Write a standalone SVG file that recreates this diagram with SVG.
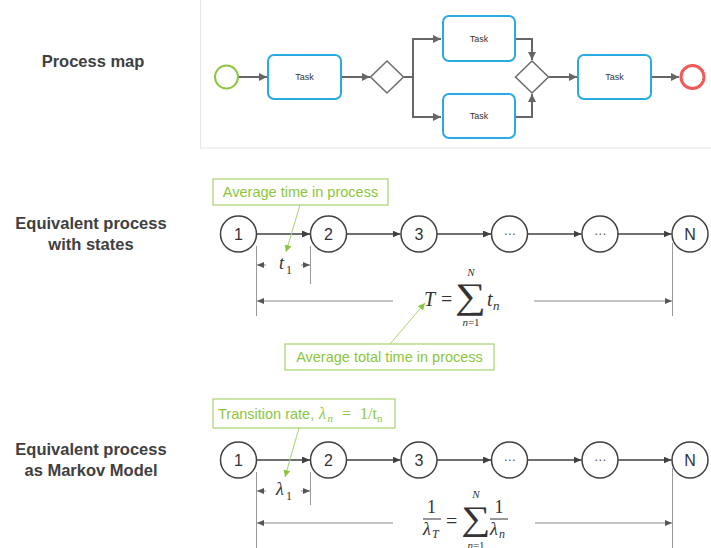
<svg xmlns="http://www.w3.org/2000/svg" width="711" height="548" viewBox="0 0 711 548">
  <defs>
    <style>
      .lbl{font-family:"Liberation Sans",Arial,sans-serif;font-weight:bold;font-size:16.5px;fill:#404040;text-anchor:middle}
      .task{fill:#fff;stroke:#29abe2;stroke-width:2}
      .tt{font-family:"Liberation Sans",Arial,sans-serif;font-size:9px;fill:#333;text-anchor:middle}
      .gw{fill:#fff;stroke:#707070;stroke-width:1.6}
      .flow{fill:none;stroke:#666;stroke-width:2}
      .st{fill:#fff;stroke:#404040;stroke-width:1.5}
      .sn{font-family:"Liberation Sans",Arial,sans-serif;font-size:16px;fill:#333;text-anchor:middle}
      .dots{font-family:"DejaVu Sans",sans-serif;font-size:12px;fill:#555;text-anchor:middle}
      .edge{fill:none;stroke:#404040;stroke-width:1.5}
      .ext{stroke:#999;stroke-width:1}
      .dim{stroke:#888;stroke-width:1}
      .cb{fill:#fff;stroke:#a9d46f;stroke-width:1.2}
      .ct{font-family:"Liberation Sans",Arial,sans-serif;font-size:14.5px;fill:#8cc63e}
      .cm{font-family:"Liberation Serif","DejaVu Serif",serif;font-style:italic;fill:#8cc63e}
      .cr{font-family:"Liberation Serif","DejaVu Serif",serif;fill:#8cc63e}
      .cp{stroke:#a9d46f;stroke-width:1}
      .m{font-family:"Liberation Serif","DejaVu Serif",serif;font-style:italic;fill:#333}
      .mr{font-family:"Liberation Serif","DejaVu Serif",serif;fill:#333}
    </style>
    <marker id="ahFlow" viewBox="0 0 8 8" markerUnits="userSpaceOnUse" markerWidth="8" markerHeight="8" refX="8" refY="4" orient="auto">
      <path d="M0,0 L8,4 L0,8 z" fill="#666"/>
    </marker>
    <marker id="ahState" viewBox="0 0 8 7" markerUnits="userSpaceOnUse" markerWidth="8" markerHeight="7" refX="8" refY="3.5" orient="auto">
      <path d="M0,0 L8,3.5 L0,7 z" fill="#404040"/>
    </marker>
    <marker id="ahDim" viewBox="0 0 7 6" markerUnits="userSpaceOnUse" markerWidth="7" markerHeight="6" refX="7" refY="3" orient="auto">
      <path d="M0,0 L7,3 L0,6 z" fill="#555"/>
    </marker>
    <marker id="ahGreen" viewBox="0 0 7 7" markerUnits="userSpaceOnUse" markerWidth="7" markerHeight="7" refX="7" refY="3.5" orient="auto">
      <path d="M0,0 L7,3.5 L0,7 z" fill="#8cc63e"/>
    </marker>
  </defs>

  <rect width="711" height="548" fill="#fff"/>

  <!-- section titles -->
  <g id="titles">
    <text class="lbl" x="93" y="67">Process map</text>
    <text class="lbl" x="91" y="229">Equivalent process</text>
    <text class="lbl" x="91" y="250">with states</text>
    <text class="lbl" x="91" y="455">Equivalent process</text>
    <text class="lbl" x="91" y="476">as Markov Model</text>
  </g>

  <!-- BPMN panel -->
  <rect id="pm-panel" x="200.5" y="-1" width="511" height="149" fill="#fff" stroke="#e6e6e6" stroke-width="1"/>

  <g id="pm-connectors">
    <line class="flow" x1="238" y1="77" x2="267" y2="77" marker-end="url(#ahFlow)"/>
    <line class="flow" x1="342" y1="77" x2="370" y2="77" marker-end="url(#ahFlow)"/>
    <path class="flow" d="M404,77 H413 V39 H441" marker-end="url(#ahFlow)"/>
    <path class="flow" d="M413,77 V117 H441" marker-end="url(#ahFlow)"/>
    <path class="flow" d="M516,39 H532 V60" marker-end="url(#ahFlow)"/>
    <path class="flow" d="M516,117 H532 V94" marker-end="url(#ahFlow)"/>
    <line class="flow" x1="549" y1="77" x2="577" y2="77" marker-end="url(#ahFlow)"/>
    <line class="flow" x1="652" y1="77" x2="679" y2="77" marker-end="url(#ahFlow)"/>
  </g>

  <g id="pm-start"><circle cx="226.5" cy="77" r="11.5" fill="#fff" stroke="#8dc63f" stroke-width="2"/></g>
  <g id="pm-task1"><rect class="task" x="268" y="55" width="73" height="44" rx="6"/><text class="tt" x="304.5" y="80">Task</text></g>
  <g id="pm-split"><polygon class="gw" points="387,61 403.5,77 387,93 370.5,77"/></g>
  <g id="pm-task2"><rect class="task" x="443" y="16" width="72" height="45" rx="6"/><text class="tt" x="479" y="41.5">Task</text></g>
  <g id="pm-task3"><rect class="task" x="443" y="94" width="72" height="44" rx="6"/><text class="tt" x="479" y="119">Task</text></g>
  <g id="pm-join"><polygon class="gw" points="532,61 548.5,77 532,93 515.5,77"/></g>
  <g id="pm-task4"><rect class="task" x="578" y="55" width="73" height="44" rx="6"/><text class="tt" x="614.5" y="80">Task</text></g>
  <g id="pm-end"><circle cx="692.5" cy="77" r="11.5" fill="#fff" stroke="#f05a5a" stroke-width="3"/></g>

  <!-- state chain: connectors -->
  <g id="state-connectors">
    <line class="edge" x1="256.5" y1="234" x2="310" y2="234" marker-end="url(#ahState)"/>
    <line class="edge" x1="346.5" y1="234" x2="400.5" y2="234" marker-end="url(#ahState)"/>
    <line class="edge" x1="437" y1="234" x2="491" y2="234" marker-end="url(#ahState)"/>
    <line class="edge" x1="527.5" y1="234" x2="581.5" y2="234" marker-end="url(#ahState)"/>
    <line class="edge" x1="618" y1="234" x2="671.5" y2="234" marker-end="url(#ahState)"/>
  </g>
  <g id="s1"><circle class="st" cx="238.5" cy="234" r="18"/><text class="sn" x="238.5" y="240">1</text></g>
  <g id="s2"><circle class="st" cx="328.5" cy="234" r="18"/><text class="sn" x="328.5" y="240">2</text></g>
  <g id="s3"><circle class="st" cx="419" cy="234" r="18"/><text class="sn" x="419" y="240">3</text></g>
  <g id="s4"><circle class="st" cx="509.5" cy="234" r="18"/><text class="dots" x="509.5" y="238">⋯</text></g>
  <g id="s5"><circle class="st" cx="600" cy="234" r="18"/><text class="dots" x="600" y="238">⋯</text></g>
  <g id="sN"><circle class="st" cx="690" cy="234" r="18"/><text class="sn" x="690" y="240">N</text></g>

  <!-- state chain: dimensions -->
  <g id="state-dims">
    <line class="ext" x1="256.5" y1="246" x2="256.5" y2="316"/>
    <line class="ext" x1="310.5" y1="246" x2="310.5" y2="284"/>
    <line class="ext" x1="672.5" y1="243" x2="672.5" y2="316"/>
    <line class="dim" x1="266" y1="265" x2="257" y2="265" marker-end="url(#ahDim)"/>
    <line class="dim" x1="301" y1="265" x2="310" y2="265" marker-end="url(#ahDim)"/>
    <line class="dim" x1="393" y1="301" x2="257" y2="301" marker-end="url(#ahDim)"/>
    <line class="dim" x1="534" y1="301" x2="672" y2="301" marker-end="url(#ahDim)"/>
    <text class="m" x="279" y="269" font-size="18">t</text>
    <text class="mr" x="286" y="274" font-size="12">1</text>
    <text class="m" x="424" y="306" font-size="20">T</text>
    <text class="mr" x="441" y="306" font-size="20">=</text>
    <text class="mr" font-size="36" text-anchor="middle" transform="translate(470.5,308) scale(1.2,1)">∑</text>
    <text class="m" x="471" y="276" font-size="11" text-anchor="middle">N</text>
    <text class="mr" x="471" y="326" font-size="11" text-anchor="middle"><tspan font-style="italic">n</tspan>=1</text>
    <text class="m" x="487" y="306" font-size="20">t</text>
    <text class="m" x="493" y="310" font-size="13">n</text>
  </g>

  <!-- state chain: callouts -->
  <g id="note-avg-time">
    <line class="cp" x1="300" y1="205" x2="286" y2="252" marker-end="url(#ahGreen)"/>
    <rect class="cb" x="213" y="179" width="175" height="26"/>
    <text class="ct" x="300.5" y="197" text-anchor="middle">Average time in process</text>
  </g>
  <g id="note-total-time">
    <line class="cp" x1="390" y1="344" x2="425" y2="303" marker-end="url(#ahGreen)"/>
    <rect class="cb" x="285" y="344" width="209" height="26"/>
    <text class="ct" x="389.5" y="362" text-anchor="middle">Average total time in process</text>
  </g>

  <!-- Markov chain: connectors -->
  <g id="markov-connectors">
    <line class="edge" x1="256.5" y1="460" x2="310" y2="460" marker-end="url(#ahState)"/>
    <line class="edge" x1="346.5" y1="460" x2="400.5" y2="460" marker-end="url(#ahState)"/>
    <line class="edge" x1="437" y1="460" x2="491" y2="460" marker-end="url(#ahState)"/>
    <line class="edge" x1="527.5" y1="460" x2="581.5" y2="460" marker-end="url(#ahState)"/>
    <line class="edge" x1="618" y1="460" x2="671.5" y2="460" marker-end="url(#ahState)"/>
  </g>
  <g id="m1"><circle class="st" cx="238.5" cy="460" r="18"/><text class="sn" x="238.5" y="466">1</text></g>
  <g id="m2"><circle class="st" cx="328.5" cy="460" r="18"/><text class="sn" x="328.5" y="466">2</text></g>
  <g id="m3"><circle class="st" cx="419" cy="460" r="18"/><text class="sn" x="419" y="466">3</text></g>
  <g id="m4"><circle class="st" cx="509.5" cy="460" r="18"/><text class="dots" x="509.5" y="464">⋯</text></g>
  <g id="m5"><circle class="st" cx="600" cy="460" r="18"/><text class="dots" x="600" y="464">⋯</text></g>
  <g id="mN"><circle class="st" cx="690" cy="460" r="18"/><text class="sn" x="690" y="466">N</text></g>

  <!-- Markov chain: dimensions -->
  <g id="markov-dims">
    <line class="ext" x1="256.5" y1="472" x2="256.5" y2="548"/>
    <line class="ext" x1="310.5" y1="472" x2="310.5" y2="505"/>
    <line class="ext" x1="672.5" y1="468" x2="672.5" y2="548"/>
    <line class="dim" x1="266" y1="491" x2="257" y2="491" marker-end="url(#ahDim)"/>
    <line class="dim" x1="301" y1="491" x2="310" y2="491" marker-end="url(#ahDim)"/>
    <line class="dim" x1="393" y1="523" x2="257" y2="523" marker-end="url(#ahDim)"/>
    <line class="dim" x1="535" y1="523" x2="672" y2="523" marker-end="url(#ahDim)"/>
    <text class="m" x="276" y="495" font-size="18">λ</text>
    <text class="mr" x="286" y="500" font-size="12">1</text>
    <text class="mr" x="431.5" y="513" font-size="18" text-anchor="middle">1</text>
    <line x1="423" y1="519" x2="441" y2="519" stroke="#333" stroke-width="1"/>
    <text class="m" x="423" y="535" font-size="18">λ</text>
    <text class="m" x="432" y="538" font-size="12">T</text>
    <text class="mr" x="446" y="528" font-size="20">=</text>
    <text class="mr" font-size="34" text-anchor="middle" transform="translate(475.5,530) scale(1.2,1)">∑</text>
    <text class="m" x="476" y="498" font-size="11" text-anchor="middle">N</text>
    <text class="mr" x="476" y="549" font-size="11" text-anchor="middle"><tspan font-style="italic">n</tspan>=1</text>
    <text class="mr" x="499" y="513" font-size="18" text-anchor="middle">1</text>
    <line x1="490" y1="519" x2="508" y2="519" stroke="#333" stroke-width="1"/>
    <text class="m" x="490" y="535" font-size="18">λ</text>
    <text class="m" x="499" y="538" font-size="12">n</text>
  </g>

  <!-- Markov chain: callout -->
  <g id="note-rate">
    <line class="cp" x1="299" y1="428" x2="285" y2="477" marker-end="url(#ahGreen)"/>
    <rect class="cb" x="213" y="399" width="182" height="29"/>
    <text class="ct" x="218" y="419">Transition rate,</text>
    <text class="cm" x="319" y="419" font-size="16">λ</text>
    <text class="cm" x="327.5" y="422" font-size="11">n</text>
    <text class="cr" x="342" y="419" font-size="16">=</text>
    <text class="cr" x="360" y="419" font-size="16">1/t</text>
    <text class="cr" x="377" y="422" font-size="11">n</text>
  </g>
</svg>
